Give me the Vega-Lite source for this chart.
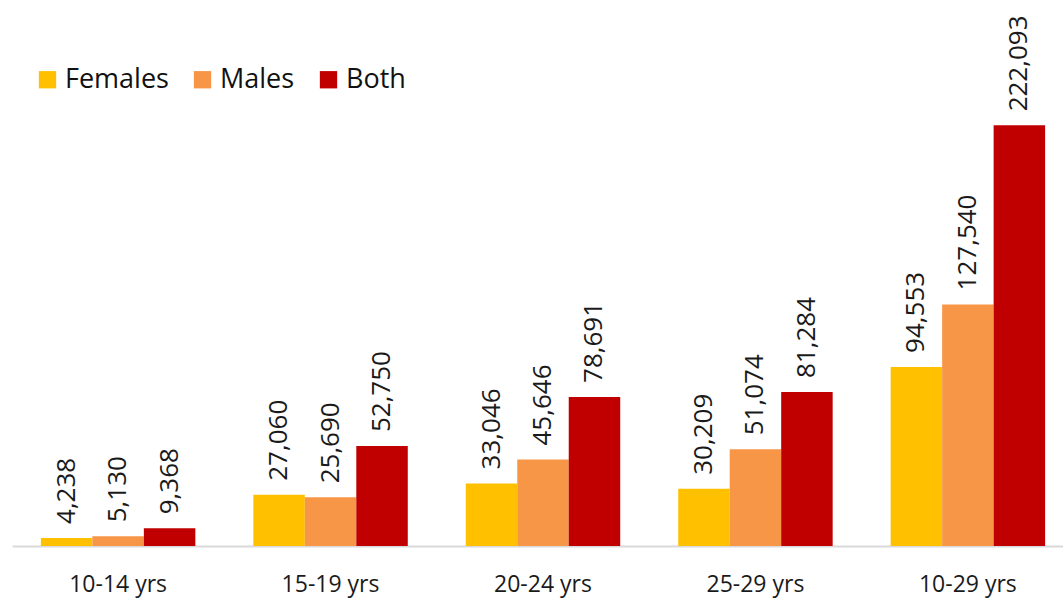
{
  "$schema": "https://vega.github.io/schema/vega-lite/v6.json",
  "autosize": "none",
  "padding": {"left": 12, "top": 0, "right": 0, "bottom": 55},
  "width": 1062,
  "height": 546,
  "background": "white",
  "config": {
    "view": {"stroke": null},
    "font": "Open Sans"
  },
  "data": {
    "values": [
      {"age": "10-14 yrs", "sex": "Females", "count": 4238},
      {"age": "10-14 yrs", "sex": "Males", "count": 5130},
      {"age": "10-14 yrs", "sex": "Both", "count": 9368},
      {"age": "15-19 yrs", "sex": "Females", "count": 27060},
      {"age": "15-19 yrs", "sex": "Males", "count": 25690},
      {"age": "15-19 yrs", "sex": "Both", "count": 52750},
      {"age": "20-24 yrs", "sex": "Females", "count": 33046},
      {"age": "20-24 yrs", "sex": "Males", "count": 45646},
      {"age": "20-24 yrs", "sex": "Both", "count": 78691},
      {"age": "25-29 yrs", "sex": "Females", "count": 30209},
      {"age": "25-29 yrs", "sex": "Males", "count": 51074},
      {"age": "25-29 yrs", "sex": "Both", "count": 81284},
      {"age": "10-29 yrs", "sex": "Females", "count": 94553},
      {"age": "10-29 yrs", "sex": "Males", "count": 127540},
      {"age": "10-29 yrs", "sex": "Both", "count": 222093}
    ]
  },
  "encoding": {
    "x": {
      "field": "age",
      "type": "nominal",
      "sort": ["10-14 yrs", "15-19 yrs", "20-24 yrs", "25-29 yrs", "10-29 yrs"],
      "scale": {"paddingInner": 0.273, "paddingOuter": 0.136},
      "axis": {
        "title": null,
        "labelAngle": 0,
        "labelFont": "Open Sans",
        "labelFontSize": 23,
        "labelColor": "#1a1a1a",
        "labelPadding": 27,
        "ticks": false,
        "domainColor": "#d9d9d9",
        "domainWidth": 2
      }
    },
    "xOffset": {
      "field": "sex",
      "type": "nominal",
      "sort": ["Females", "Males", "Both"],
      "scale": {"paddingInner": 0, "paddingOuter": 0}
    },
    "y": {
      "field": "count",
      "type": "quantitative",
      "scale": {"domain": [0, 288288], "nice": false},
      "axis": null
    }
  },
  "layer": [
    {
      "mark": {"type": "bar"},
      "encoding": {
        "color": {
          "field": "sex",
          "type": "nominal",
          "sort": ["Females", "Males", "Both"],
          "scale": {
            "domain": ["Females", "Males", "Both"],
            "range": ["#FFC000", "#F79646", "#C00000"]
          },
          "legend": {
            "title": null,
            "orient": "none",
            "direction": "horizontal",
            "legendX": 22,
            "legendY": 66,
            "symbolType": "square",
            "symbolSize": 300,
            "symbolStrokeWidth": 0,
            "symbolOpacity": 1,
            "labelFont": "Open Sans",
            "labelFontSize": 27,
            "labelColor": "#111111",
            "labelOffset": 4,
            "columnPadding": 20,
            "labelLimit": 300
          }
        }
      }
    },
    {
      "mark": {
        "type": "text",
        "angle": 270,
        "align": "left",
        "baseline": "middle",
        "dx": 14,
        "font": "Open Sans",
        "fontSize": 26,
        "color": "#1a1a1a"
      },
      "encoding": {
        "text": {"field": "count", "type": "quantitative", "format": ","}
      }
    }
  ]
}
